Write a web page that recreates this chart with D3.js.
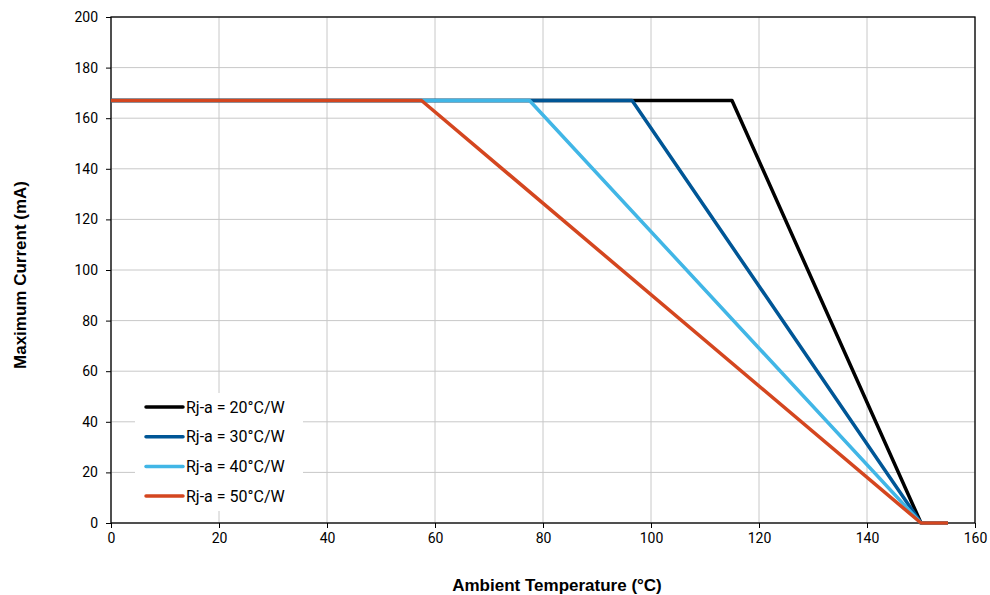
<!DOCTYPE html>
<html>
<head>
<meta charset="utf-8">
<script src="https://cdn.jsdelivr.net/npm/d3@7"></script>
<style>
  body { margin: 0; background: #fff; }
  svg { display: block; }
</style>
</head>
<body>
<div id="chart"></div>
<script>
// series: temperature breakpoints (deg C) and current (mA)
var seriesNames = ['Rj-a = 20°C/W', 'Rj-a = 30°C/W', 'Rj-a = 40°C/W', 'Rj-a = 50°C/W'];
var seriesColors = ['#000000', '#005696', '#41b6e6', '#d4461f'];
var tempPoints = [
  [0, 115, 150, 155],
  [0, 96.5, 150, 155],
  [0, 77.5, 150, 155],
  [0, 57.5, 150, 155]
];
var currentPoints = [
  [167, 167, 0, 0],
  [167, 167, 0, 0],
  [167, 167, 0, 0],
  [167, 167, 0, 0]
];
var xTicks = [0, 20, 40, 60, 80, 100, 120, 140, 160];
var yTicks = [0, 20, 40, 60, 80, 100, 120, 140, 160, 180, 200];

(function () {
  'use strict';

  var width = 990, height = 595;
  var margin = {top: 17, right: 15, bottom: 72, left: 111};
  var w = width - margin.left - margin.right;
  var h = height - margin.top - margin.bottom;

  var svg = d3.select('#chart').append('svg')
    .attr('width', width)
    .attr('height', height);

  var g = svg.append('g')
    .attr('transform', 'translate(' + margin.left + ',' + margin.top + ')');

  var x = d3.scaleLinear().domain([0, 160]).range([0, w]);
  var y = d3.scaleLinear().domain([0, 200]).range([h, 0]);

  // grid
  g.append('g').selectAll('line.vx')
    .data(xTicks)
    .enter().append('line')
    .attr('x1', function (d) { return x(d); })
    .attr('x2', function (d) { return x(d); })
    .attr('y1', 0).attr('y2', h)
    .attr('stroke', '#c8c8c8').attr('stroke-width', 1);
  g.append('g').selectAll('line.hy')
    .data(yTicks)
    .enter().append('line')
    .attr('x1', 0).attr('x2', w)
    .attr('y1', function (d) { return y(d); })
    .attr('y2', function (d) { return y(d); })
    .attr('stroke', '#c8c8c8').attr('stroke-width', 1);

  // axes
  var xAxis = g.append('g')
    .attr('transform', 'translate(0,' + h + ')')
    .call(d3.axisBottom(x).tickValues(xTicks).tickSize(5).tickPadding(5));
  var yAxis = g.append('g')
    .call(d3.axisLeft(y).tickValues(yTicks).tickSize(5).tickPadding(8));
  [xAxis, yAxis].forEach(function (a) {
    a.select('.domain').remove();
    a.selectAll('line').attr('stroke', '#000');
    a.selectAll('text')
      .attr('fill', '#000')
      .style('font-family', 'Roboto, sans-serif')
      .style('font-size', '14px');
  });

  // frame
  g.append('rect')
    .attr('x', 0).attr('y', 0).attr('width', w).attr('height', h)
    .attr('fill', 'none').attr('stroke', '#000').attr('stroke-width', 1.3);

  // lines
  var line = d3.line()
    .x(function (d) { return x(d[0]); })
    .y(function (d) { return y(d[1]); });

  seriesNames.forEach(function (name, i) {
    var pts = d3.zip(tempPoints[i], currentPoints[i]);
    g.append('path')
      .datum(pts)
      .attr('d', line)
      .attr('fill', 'none')
      .attr('stroke', seriesColors[i])
      .attr('stroke-width', 3.5)
      .attr('stroke-linejoin', 'round');
  });

  // legend
  var leg = g.append('g').attr('transform', 'translate(24,376)');
  leg.append('rect')
    .attr('x', 0).attr('y', 0).attr('width', 168).attr('height', 118)
    .attr('fill', '#fff');
  seriesNames.forEach(function (name, i) {
    var ly = 14 + i * 29.7;
    leg.append('line')
      .attr('x1', 11).attr('x2', 48)
      .attr('y1', ly).attr('y2', ly)
      .attr('stroke', seriesColors[i])
      .attr('stroke-width', 3.5)
      .attr('stroke-linecap', 'round');
    leg.append('text')
      .attr('x', 51).attr('y', ly + 5.5)
      .attr('fill', '#000')
      .style('font-family', 'Roboto, sans-serif')
      .style('font-size', '16px')
      .text(name);
  });

  // axis titles
  svg.append('text')
    .attr('x', 557).attr('y', 591)
    .attr('text-anchor', 'middle')
    .style('font-family', '"Liberation Sans", Arial, sans-serif')
    .style('font-weight', 'bold')
    .style('font-size', '17px')
    .text('Ambient Temperature (°C)');
  svg.append('text')
    .attr('transform', 'translate(26,275) rotate(-90)')
    .attr('text-anchor', 'middle')
    .style('font-family', '"Liberation Sans", Arial, sans-serif')
    .style('font-weight', 'bold')
    .style('font-size', '17px')
    .text('Maximum Current (mA)');
})();
</script>
</body>
</html>
